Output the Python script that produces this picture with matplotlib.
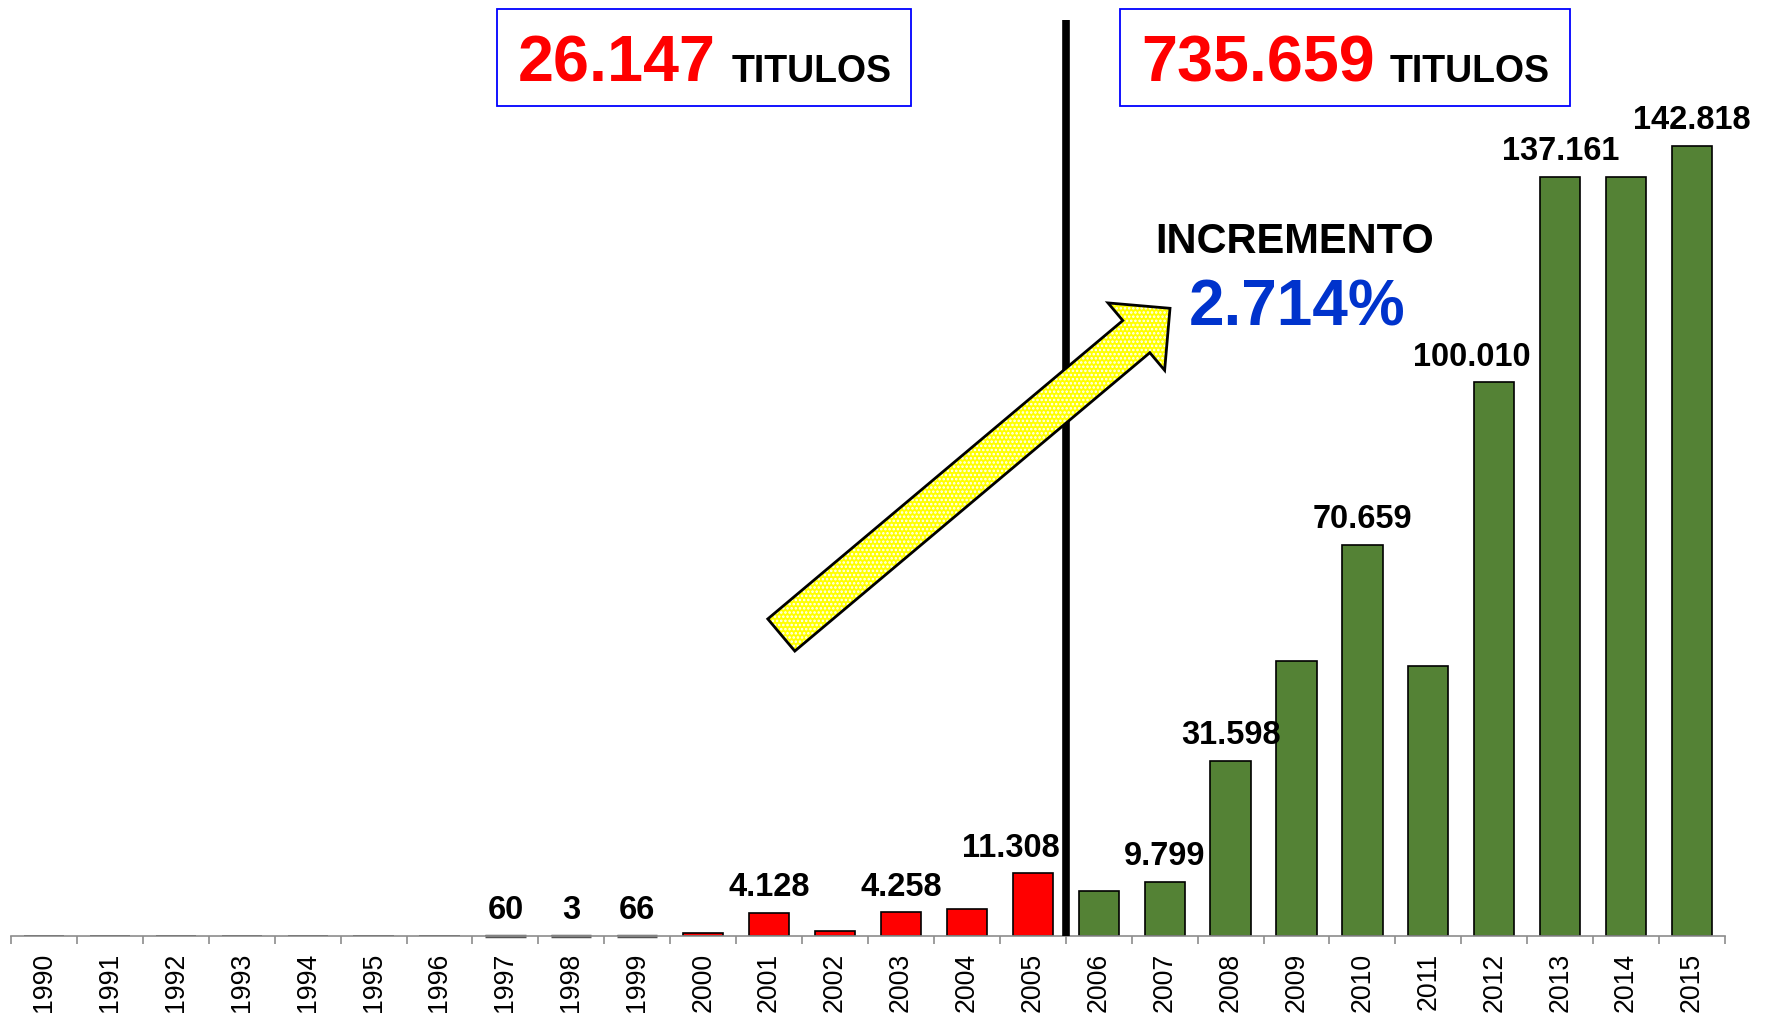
import matplotlib
matplotlib.use("Agg")
import matplotlib.pyplot as plt
from matplotlib.patches import FancyArrow, Rectangle

plt.rcParams['font.family'] = ['Liberation Sans', 'DejaVu Sans']

# ---------------- data ----------------
years = [str(y) for y in range(1990, 2016)]
values = [0, 0, 0, 0, 0, 0, 0, 60, 3, 66, 600, 4128, 824, 4258, 4900, 11308,
          8103, 9799, 31598, 49600, 70659, 48750, 100010, 137161, 137161, 142818]
labelled_years = ['1997', '1998', '1999', '2001', '2003', '2005', '2007', '2008',
                  '2010', '2012', '2013', '2015']
value_labels = ['60', '3', '66', '4.128', '4.258', '11.308', '9.799', '31.598',
                '70.659', '100.010', '137.161', '142.818']
split_year = '2005'
total_before = '26.147'
total_after = '735.659'
unit_text = 'TITULOS'
increment_title = 'INCREMENTO'
increment_value = '2.714%'

# ---------------- style ----------------
RED = '#FF0000'
GREEN = '#548235'
BLUE_BOX = '#0000FF'
BLUE_TXT = '#0033CC'
label_nudge_pt = {'2005': -16, '2012': -16}

W, H = 1768, 1016
fig = plt.figure(figsize=(W / 100, H / 100), dpi=100)
fig.patch.set_facecolor('white')

ax_left, ax_right, ax_base, ax_top = 11, 1725, 936, 20
ax = fig.add_axes([ax_left / W, (H - ax_base) / H, (ax_right - ax_left) / W,
                   (ax_base - ax_top) / H])

x = list(range(len(years)))
split_idx = years.index(split_year)
colors = [RED if i <= split_idx else GREEN for i in x]
ax.bar(x, values, width=0.61, color=colors, edgecolor='black', linewidth=1.2, zorder=2)
# tiny bars drawn as visible grey slivers like the reference
for i, v in enumerate(values):
    if 0 < v < 200:
        ax.plot([i - 0.305, i + 0.305], [0, 0], color='#555555', lw=2.5,
                solid_capstyle='butt', zorder=2.5, clip_on=False)

ax.set_xlim(-0.5, len(years) - 0.5)
ax.set_ylim(0, 165500)

for s in ['top', 'right', 'left']:
    ax.spines[s].set_visible(False)
ax.spines['bottom'].set_color('#8c8c8c')
ax.spines['bottom'].set_linewidth(1.2)
ax.set_yticks([])
ax.set_xticks(x)
ax.set_xticklabels(years, rotation=90, fontsize=19.2, va='top', ha='center')
ax.tick_params(axis='x', which='major', length=0, pad=12)
ax.set_xticks([i - 0.5 for i in range(len(years) + 1)], minor=True)
ax.tick_params(axis='x', which='minor', length=5.5, width=1.2, color='#8c8c8c')

# value labels
for yr, lab in zip(labelled_years, value_labels):
    i = years.index(yr)
    ax.annotate(lab, xy=(i, values[i]), xytext=(label_nudge_pt.get(yr, 0), 12),
                textcoords='offset points', ha='center', va='baseline',
                fontsize=23.5, fontweight='bold', color='black', zorder=4)

# vertical split line
ax.axvline(split_idx + 0.5, ymin=0, ymax=1, color='black', linewidth=5.5,
           clip_on=False, zorder=3, solid_capstyle='butt')

# ---------------- overlay (pixel coordinates) ----------------
ov = fig.add_axes([0, 0, 1, 1], zorder=5)
ov.set_xlim(0, W)
ov.set_ylim(H, 0)
ov.axis('off')
ov.patch.set_alpha(0)

# boxes
ov.add_patch(Rectangle((497, 8.5), 413.5, 97.5, fill=False, edgecolor=BLUE_BOX, lw=1.3))
ov.add_patch(Rectangle((1120, 8.5), 450, 97.5, fill=False, edgecolor=BLUE_BOX, lw=1.3))

ov.text(518, 81.7, total_before, color=RED, fontsize=46.5, fontweight='bold',
        ha='left', va='baseline')
ov.text(732, 81.7, unit_text, color='black', fontsize=27, fontweight='bold',
        ha='left', va='baseline')
ov.text(1141, 81.7, total_after, color=RED, fontsize=46.5, fontweight='bold',
        ha='left', va='baseline')
ov.text(1390, 81.7, unit_text, color='black', fontsize=27, fontweight='bold',
        ha='left', va='baseline')

ov.text(1295, 252.7, increment_title, color='black', fontsize=30, fontweight='bold',
        ha='center', va='baseline')
ov.text(1297, 325.7, increment_value, color=BLUE_TXT, fontsize=46, fontweight='bold',
        ha='center', va='baseline')

# arrow
tail = (781.3, 635.0)
tip = (1170.0, 308.3)
dx, dy = tip[0] - tail[0], tip[1] - tail[1]
arrow_kw = dict(width=42, head_width=88, head_length=44, length_includes_head=True)
ov.add_patch(FancyArrow(tail[0], tail[1], dx, dy, facecolor='#FFFF00',
                        edgecolor='none', lw=0, **arrow_kw))
plt.rcParams['hatch.linewidth'] = 1.2
ov.add_patch(FancyArrow(tail[0], tail[1], dx, dy, fill=False, edgecolor='white',
                        hatch='....', lw=0, **arrow_kw))
ov.add_patch(FancyArrow(tail[0], tail[1], dx, dy, fill=False, edgecolor='black',
                        lw=2, joinstyle='miter', **arrow_kw))

fig.savefig('out.png', dpi=100, facecolor='white')
